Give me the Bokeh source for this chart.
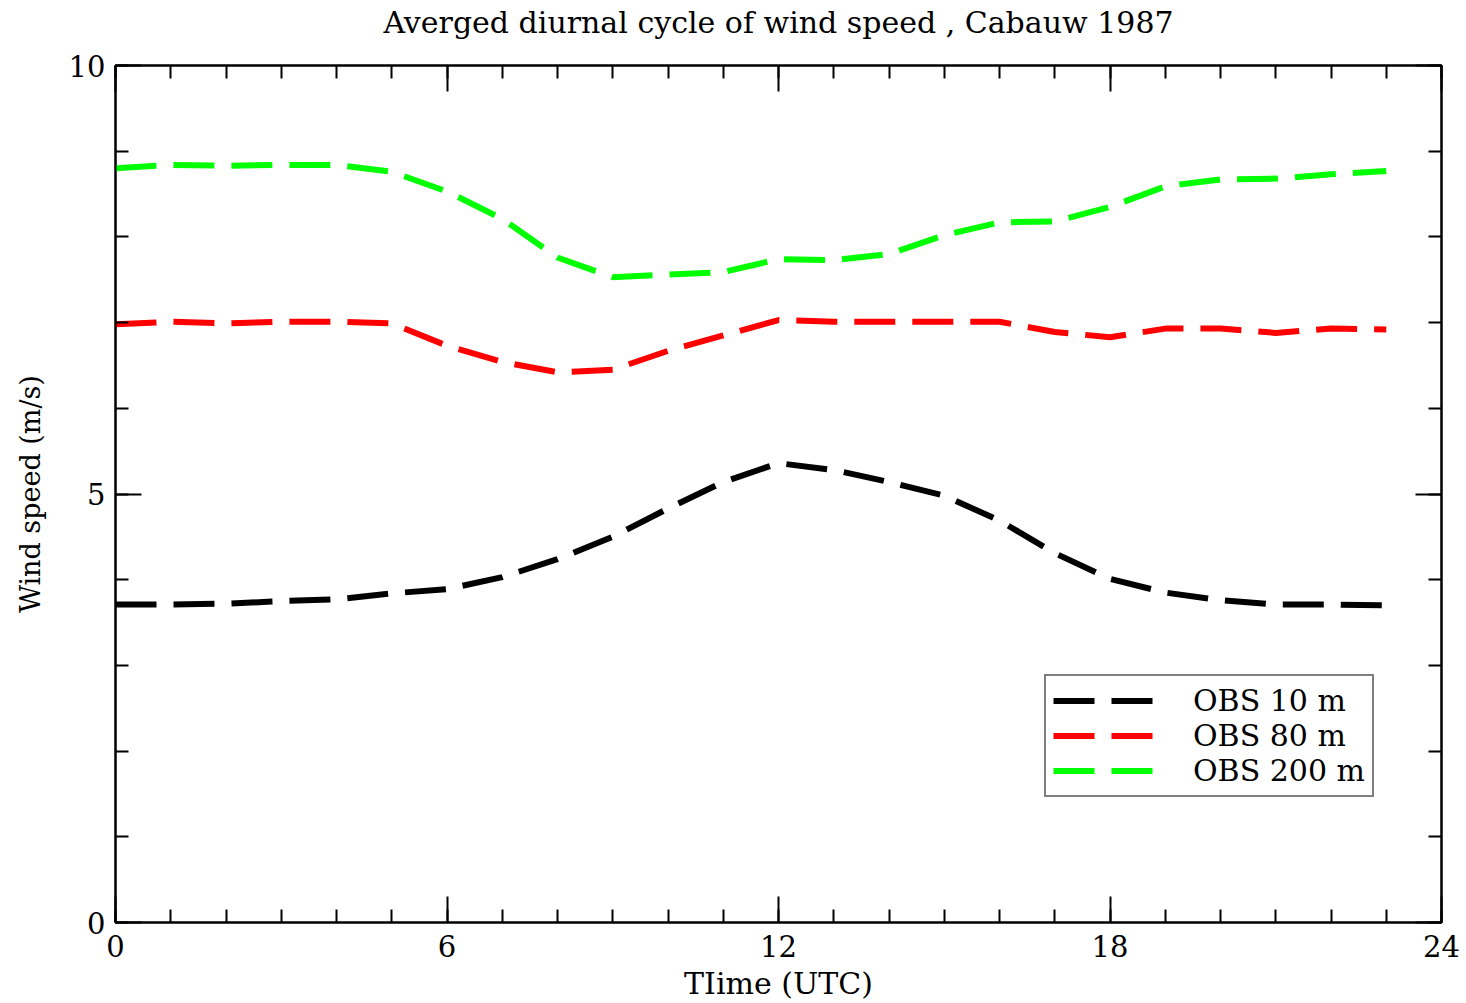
from bokeh.plotting import figure
from bokeh.models import Range1d, LinearAxis, Legend, LegendItem, FixedTicker
from bokeh.embed import file_html
from bokeh.resources import INLINE

hours = list(range(24))
obs_10m = [3.71, 3.71, 3.72, 3.75, 3.77, 3.84, 3.89, 4.03, 4.24, 4.50, 4.83, 5.14,
           5.36, 5.28, 5.14, 4.98, 4.69, 4.31, 4.01, 3.85, 3.76, 3.71, 3.71, 3.70]
obs_80m = [6.98, 7.01, 6.99, 7.01, 7.01, 6.99, 6.73, 6.54, 6.42, 6.45, 6.67, 6.85,
           7.03, 7.01, 7.01, 7.01, 7.01, 6.89, 6.83, 6.93, 6.93, 6.88, 6.93, 6.92]
obs_200m = [8.80, 8.84, 8.83, 8.84, 8.84, 8.76, 8.53, 8.21, 7.76, 7.53, 7.56, 7.59,
            7.74, 7.73, 7.80, 8.02, 8.17, 8.18, 8.35, 8.59, 8.67, 8.68, 8.73, 8.77]
series_labels = ["OBS 10 m", "OBS 80 m", "OBS 200 m"]
series_colors = ["#000000", "#ff0000", "#00ff00"]
x_major = [0, 6, 12, 18, 24]
y_major = [0, 5, 10]
title_text = "Averged diurnal cycle of wind speed , Cabauw 1987"

FONT = "DejaVu Serif"

p = figure(width=1466, height=1003, output_backend="svg", toolbar_location=None,
           x_range=Range1d(0, 24), y_range=Range1d(0, 10),
           x_axis_label="TIime (UTC)", y_axis_label="Wind speed (m/s)",
           min_border_left=115, min_border_right=25, min_border_top=65, min_border_bottom=81)

p.grid.visible = False
p.outline_line_color = "black"
p.outline_line_width = 2
p.background_fill_color = "white"
p.border_fill_color = "white"

x_minor = list(range(25))
y_minor = list(range(11))

def style_axis(ax, major, minor, labels=True):
    ax.ticker = FixedTicker(ticks=major, minor_ticks=minor)
    ax.major_tick_in = 26
    ax.major_tick_out = 0
    ax.minor_tick_in = 13
    ax.minor_tick_out = 0
    ax.axis_line_width = 2
    ax.major_tick_line_width = 2
    ax.minor_tick_line_width = 2
    ax.axis_line_color = "black"
    ax.major_tick_line_color = "black"
    ax.minor_tick_line_color = "black"
    ax.major_label_text_font = FONT
    ax.major_label_text_font_size = "29px"
    ax.major_label_text_color = "black"
    ax.axis_label_text_font = FONT
    ax.axis_label_text_font_size = "30px"
    ax.axis_label_text_font_style = "normal"
    ax.axis_label_text_color = "black"
    if not labels:
        ax.major_label_text_font_size = "0px"
        ax.major_label_text_alpha = 0
        ax.major_label_standoff = 0

style_axis(p.xaxis[0], x_major, x_minor)
style_axis(p.yaxis[0], y_major, y_minor)
p.xaxis[0].major_label_standoff = 12
p.xaxis[0].axis_label_standoff = 6
p.yaxis[0].major_label_standoff = 10
p.yaxis[0].axis_label_standoff = 20
p.yaxis[0].axis_label_text_font_size = "27px"

# top axis carries the chart title as its label
top_ax = LinearAxis(axis_label=title_text)
right_ax = LinearAxis()
style_axis(top_ax, x_major, x_minor, labels=False)
style_axis(right_ax, y_major, y_minor, labels=False)
top_ax.axis_label_standoff = 26
p.add_layout(top_ax, "above")
p.add_layout(right_ax, "right")

renderers = []
for ys, col in zip([obs_10m, obs_80m, obs_200m], series_colors):
    r = p.line(hours, ys, line_color=col, line_width=6, line_dash="41 17")
    renderers.append(r)

legend = Legend(items=[LegendItem(label=lab, renderers=[r]) for lab, r in zip(series_labels, renderers)],
                location=(929, 125))
legend.label_text_font = FONT
legend.label_text_font_size = "30px"
legend.label_text_color = "black"
legend.glyph_width = 105
legend.glyph_height = 33
legend.label_height = 33
legend.label_standoff = 35
legend.spacing = 0
legend.padding = 7
legend.margin = 0
legend.border_line_color = "black"
legend.border_line_width = 2
legend.background_fill_alpha = 1
p.add_layout(legend, "center")

open("out.html", "w").write(file_html(p, INLINE))
